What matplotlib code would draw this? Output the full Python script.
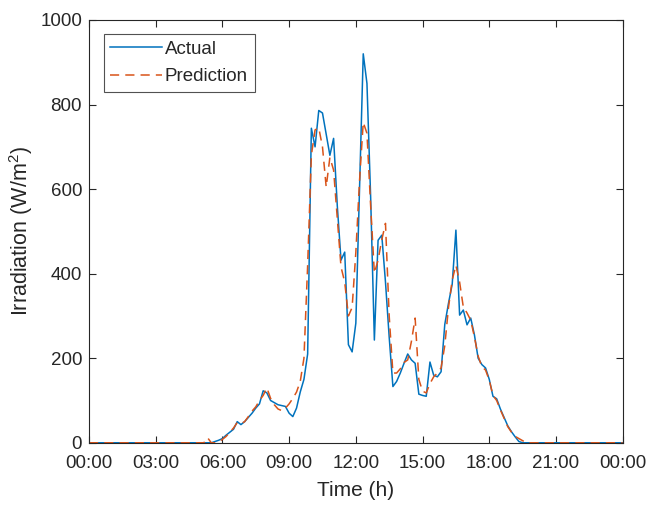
import numpy as np
import matplotlib
matplotlib.use("Agg")
import matplotlib.pyplot as plt

# 10-minute samples over one day (hours)
hours = np.arange(145) / 6.0

# measured irradiation, W/m^2
actual = [0] * 34 + [
    3, 6, 10, 18, 25, 32, 50, 43, 50, 60, 70, 82, 92, 123, 118, 100,
    95, 90, 88, 86, 70, 62, 82, 120, 150, 210, 744, 700, 786, 780, 730, 680,
    720, 560, 432, 451, 232, 215, 283, 600, 920, 850, 580, 243, 479, 491, 380, 250,
    133, 145, 165, 188, 210, 196, 188, 115, 112, 110, 191, 160, 156, 168, 280, 330,
    375, 503, 302, 314, 279, 295, 255, 200, 185, 177, 150, 110, 104, 80, 60, 40,
    26, 14, 3,
] + [0] * 28

# forecast irradiation, W/m^2
prediction = [0] * 32 + [
    12, 0, 0, 2, 8, 15, 25, 35, 48, 45, 50, 62, 75, 85, 100, 112,
    130, 105, 90, 80, 76, 82, 92, 105, 120, 145, 200, 420, 680, 740, 745, 700,
    605, 675, 645, 530, 416, 380, 300, 320, 450, 620, 758, 732, 560, 401, 432, 480,
    519, 300, 165, 165, 175, 190, 196, 240, 295, 150, 122, 118, 140, 156, 165, 177,
    230, 320, 385, 420, 380, 321, 307, 290, 250, 205, 180, 172, 148, 112, 100, 78,
    58, 38, 25, 15, 10, 5,
] + [0] * 27

tick_hours = np.arange(0, 25, 3)
tick_labels = ["00:00", "03:00", "06:00", "09:00", "12:00", "15:00", "18:00", "21:00", "00:00"]

plt.rcParams['font.family'] = ['Liberation Sans', 'DejaVu Sans']
plt.rcParams['mathtext.fontset'] = 'custom'
plt.rcParams['mathtext.rm'] = 'Liberation Sans'

fig = plt.figure(figsize=(6.63, 5.05), dpi=100)
ax = fig.add_axes([0.1342, 0.1232, 0.8050, 0.8372])

ax.plot(hours, actual, color='#0072BD', lw=1.1, label='Actual')
ax.plot(hours, prediction, color='#D95319', lw=1.1, ls=(0, (6, 4)), label='Prediction')

ax.set_xlim(0, 24)
ax.set_ylim(0, 1000)
ax.set_xticks(tick_hours)
ax.set_xticklabels(tick_labels)
ax.set_yticks(np.arange(0, 1001, 200))

ax.tick_params(direction='in', top=True, right=True, labelsize=13.5, colors='#262626',
               length=5, width=0.8)
ax.tick_params(axis='x', pad=9)
ax.tick_params(axis='y', pad=5)
for s in ax.spines.values():
    s.set_color('#262626')
    s.set_linewidth(0.8)

ax.set_xlabel('Time (h)', fontsize=15, color='#262626', labelpad=6)
ax.set_ylabel('Irradiation (W/m$^\\mathrm{2}$)', fontsize=15.5, color='#262626', labelpad=4)

leg = ax.legend(loc='upper left', bbox_to_anchor=(0.028, 0.967), fontsize=13.5, frameon=True, fancybox=False,
                edgecolor='#262626', handlelength=2.75, handletextpad=0.15, borderpad=0.35, labelspacing=0.55,
                borderaxespad=0)
leg.get_frame().set_linewidth(0.8)
for t in leg.get_texts():
    t.set_color('#262626')

fig.savefig('out.png', dpi=100, facecolor='white')
